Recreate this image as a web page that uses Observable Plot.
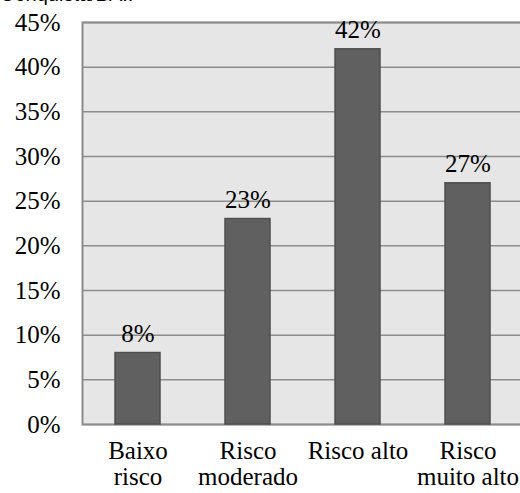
<!DOCTYPE html>
<html>
<head>
<meta charset="utf-8">
<script src="https://cdn.jsdelivr.net/npm/d3@7"></script>
<script src="https://cdn.jsdelivr.net/npm/@observablehq/plot@0.6"></script>
<style>
  html, body { margin: 0; padding: 0; background: #fff; overflow: hidden; width: 520px; height: 493px; }
  #wrap { position: relative; width: 520px; height: 493px; overflow: hidden; }
  #title { position: absolute; left: 0; top: -17px; font-family: "Liberation Sans", Arial, sans-serif; font-size: 20px; color: #000; white-space: nowrap; }
  #chart { position: absolute; left: 0; top: 0; }
</style>
</head>
<body>
<div id="wrap">
  <div id="title">Conquista/BA.:</div>
  <div id="chart"></div>
</div>
<script>
const categories = ["Baixo risco", "Risco moderado", "Risco alto", "Risco muito alto"];
const tickLabels = ["Baixo\nrisco", "Risco\nmoderado", "Risco alto", "Risco\nmuito alto"];
const values = [8, 23, 42, 27];
const yTicks = [0, 5, 10, 15, 20, 25, 30, 35, 40, 45];

const data = categories.map((c, i) => ({category: c, value: values[i]}));
const labelOf = new Map(categories.map((c, i) => [c, tickLabels[i]]));

const chart = Plot.plot({
  width: 524,
  height: 493,
  marginTop: 22,
  marginBottom: 69,
  marginLeft: 82,
  marginRight: 0,
  style: {fontFamily: "'Liberation Serif', 'Times New Roman', serif", fontSize: "25px", color: "#000", background: "transparent", maxWidth: "none", overflow: "visible"},
  x: {domain: categories, paddingInner: 0.59, paddingOuter: 0.295, align: 0.5},
  y: {domain: [0, 45], ticks: yTicks},
  marks: [
    Plot.frame({fill: "#e6e6e6", stroke: "none"}),
    Plot.ruleY(yTicks, {stroke: "#8c8c8c", strokeWidth: 1.5}),
    Plot.frame({stroke: "#8c8c8c", strokeWidth: 2}),
    Plot.barY(data, {x: "category", y: "value", fill: "#606060", stroke: "#4f4f4f", strokeWidth: 1.5}),
    Plot.text(data, {x: "category", y: "value", text: d => d.value + "%", dy: -19, fontSize: 25, fill: "#000"}),
    Plot.axisY({ticks: yTicks, tickSize: 0, tickPadding: 22, tickFormat: d => d + "%", label: null, fontSize: 25}),
    Plot.axisX({tickSize: 0, tickPadding: 16, tickFormat: d => labelOf.get(d), label: null, lineHeight: 1.04, fontSize: 25})
  ]
});
document.getElementById("chart").appendChild(chart);
</script>
</body>
</html>
